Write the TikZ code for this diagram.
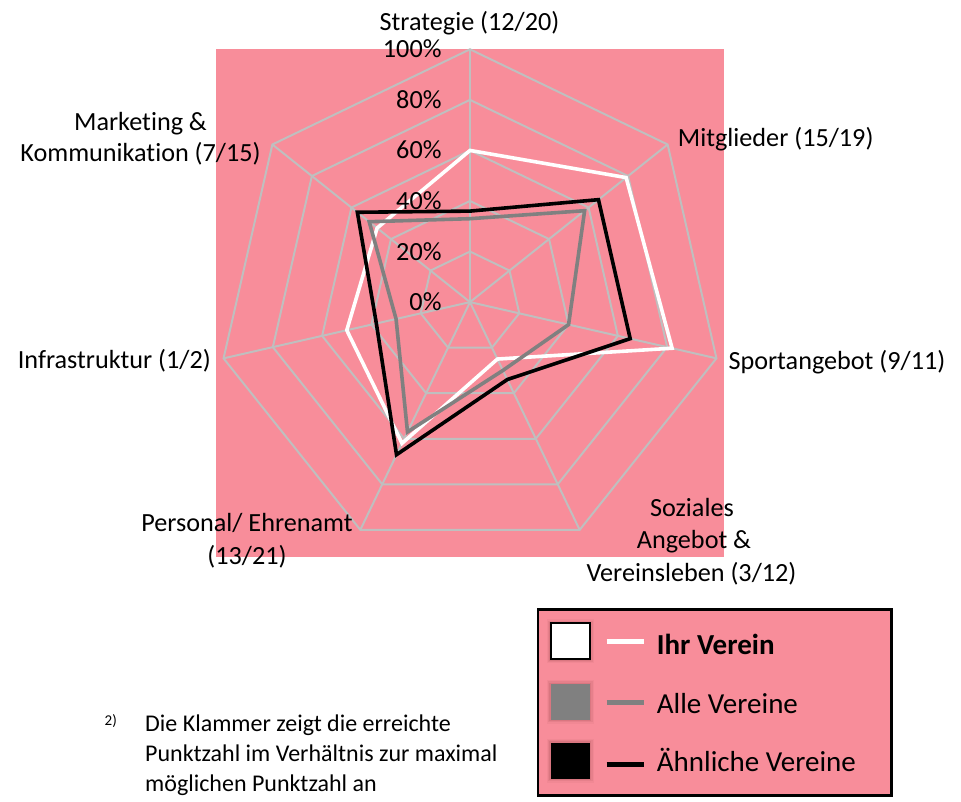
\documentclass[tikz,border=0pt]{standalone}
\usepackage{fontspec}
\setmainfont{Carlito}[Ligatures={TeX,NoCommon}]
\definecolor{bgpink}{HTML}{F88D9A}
\definecolor{gridgray}{HTML}{BFBFBF}
\definecolor{midgray}{HTML}{808080}
\definecolor{shadowred}{HTML}{8A3A44}
\begin{document}
\begin{tikzpicture}[x=1pt,y=-1pt,
  gridline/.style={draw=gridgray,line width=2pt},
  series/.style={line width=3.6pt,line join=miter},
  lbl/.style={font=\fontsize{26.2}{31}\selectfont,inner sep=0pt,anchor=base},
  legtxt/.style={font=\fontsize{29}{35}\selectfont,inner sep=0pt,anchor=base west},
  foot/.style={font=\fontsize{24}{29}\selectfont,inner sep=0pt,anchor=base west},
  legsq/.style={minimum width=39.3pt,minimum height=36pt,inner sep=0pt,outer sep=0pt},
  legline/.style={line width=5pt}]
\useasboundingbox (0,0) rectangle (961,801);
\fill[bgpink] (216,49) rectangle (724,557);
\def\cx{470}\def\cy{302.1}\def\R{252.8}
\coordinate (C) at (\cx,\cy);
\foreach \i in {0,...,6}{
  \coordinate (V\i) at ({\cx+\R*cos(90-\i*360/7)},{\cy-\R*sin(90-\i*360/7)});
}
% grid rings
\foreach \k in {1,...,5}{
  \draw[gridline] ({\cx},{\cy-\k*\R/5})
    \foreach \i in {1,...,6}{ -- ({\cx+\k*\R/5*cos(90-\i*360/7)},{\cy-\k*\R/5*sin(90-\i*360/7)}) } -- cycle;
}
\foreach \i in {0,...,6}{ \draw[gridline] (C) -- (V\i); }
% series
\foreach \v [count=\i from 0] in {60,79,82,25,62,50,47}
  \coordinate (W\i) at ({\cx+\v/100*\R*cos(90-\i*360/7)},{\cy-\v/100*\R*sin(90-\i*360/7)});
\foreach \v [count=\i from 0] in {33,58,40,30,57,30,51}
  \coordinate (G\i) at ({\cx+\v/100*\R*cos(90-\i*360/7)},{\cy-\v/100*\R*sin(90-\i*360/7)});
\foreach \v [count=\i from 0] in {36,65,65,34,67,38,57}
  \coordinate (B\i) at ({\cx+\v/100*\R*cos(90-\i*360/7)},{\cy-\v/100*\R*sin(90-\i*360/7)});
\draw[series,white] (W0)--(W1)--(W2)--(W3)--(W4)--(W5)--(W6)--cycle;
\draw[series,midgray] (G0)--(G1)--(G2)--(G3)--(G4)--(G5)--(G6)--cycle;
\draw[series,black] (B0)--(B1)--(B2)--(B3)--(B4)--(B5)--(B6)--cycle;
% percent labels
\node[lbl,anchor=base east] (p100) at (441.7,57.8) {100\%};
\node[lbl,anchor=base east] (p80) at (441.7,108.4) {80\%};
\node[lbl,anchor=base east] (p60) at (441.7,158.9) {60\%};
\node[lbl,anchor=base east] (p40) at (441.7,209.5) {40\%};
\node[lbl,anchor=base east] (p20) at (441.7,260.0) {20\%};
\node[lbl,anchor=base east] (p0) at (441.7,310.6) {0\%};
% axis labels
\node[lbl] (strat) at (469.5,30) {Strategie (12/20)};
\node[lbl,anchor=base west] (mitg) at (677.7,146) {Mitglieder (15/19)};
\node[lbl,anchor=base west] (sport) at (728.3,369) {Sportangebot (9/11)};
\node[lbl] (soz1) at (692,516) {Soziales};
\node[lbl] (soz2) at (694,548.5) {Angebot \&};
\node[lbl] (soz3) at (691.5,581) {Vereinsleben (3/12)};
\node[lbl] (pers1) at (247,531.5) {Personal/ Ehrenamt};
\node[lbl] (pers2) at (247,564) {(13/21)};
\node[lbl,anchor=base east] (infra) at (211,368.3) {Infrastruktur (1/2)};
\node[lbl] (mark1) at (140.5,130) {Marketing \&};
\node[lbl] (mark2) at (140.5,161.7) {Kommunikation (7/15)};
% legend
\node[draw=black,line width=2.5pt,fill=bgpink,minimum width=353.3pt,minimum height=185.7pt,inner sep=0pt,anchor=north west] (legend) at (536.7,608.3) {};
\foreach \yy/\nm in {641.3/sqw,701.7/sqg,760.5/sqb}{
  \foreach \o/\a in {4/0.06,2.5/0.10,1.2/0.14}{
    \fill[shadowred,opacity=\a] (550.6-\o,\yy-18-\o) rectangle (590+\o,\yy+18+\o);
  }
}
\node[legsq,fill=white,draw=black,line width=2pt] (sqw) at (570.3,641.3) {};
\node[legsq,fill=midgray] (sqg) at (570.3,701.7) {};
\node[legsq,fill=black] (sqb) at (570.3,760.5) {};
\coordinate (lw1) at (606.7,641.7); \coordinate (lw2) at (644,641.7);
\coordinate (lg1) at (606.7,702.7); \coordinate (lg2) at (644,702.7);
\coordinate (lb1) at (606.7,764.3); \coordinate (lb2) at (644,764.3);
\draw[legline,white] (lw1) -- (lw2);
\draw[legline,midgray] (lg1) -- (lg2);
\draw[legline,black] (lb1) -- (lb2);
\node[legtxt] (tw) at (656.7,654.3) {\textbf{Ihr Verein}};
\node[legtxt] (tg) at (656.7,713.3) {Alle Vereine};
\node[legtxt] (tb) at (656.7,771.7) {Ähnliche Vereine};
% footnote
\node[font=\fontsize{15}{17}\selectfont,inner sep=0pt,anchor=base west] (fnmark) at (104.5,725.5) {2)};
\node[foot] (f1) at (145,731.7) {Die Klammer zeigt die erreichte};
\node[foot] (f2) at (145,761.7) {Punktzahl im Verhältnis zur maximal};
\node[foot] (f3) at (145,791.7) {möglichen Punktzahl an};
\end{tikzpicture}
\end{document}
